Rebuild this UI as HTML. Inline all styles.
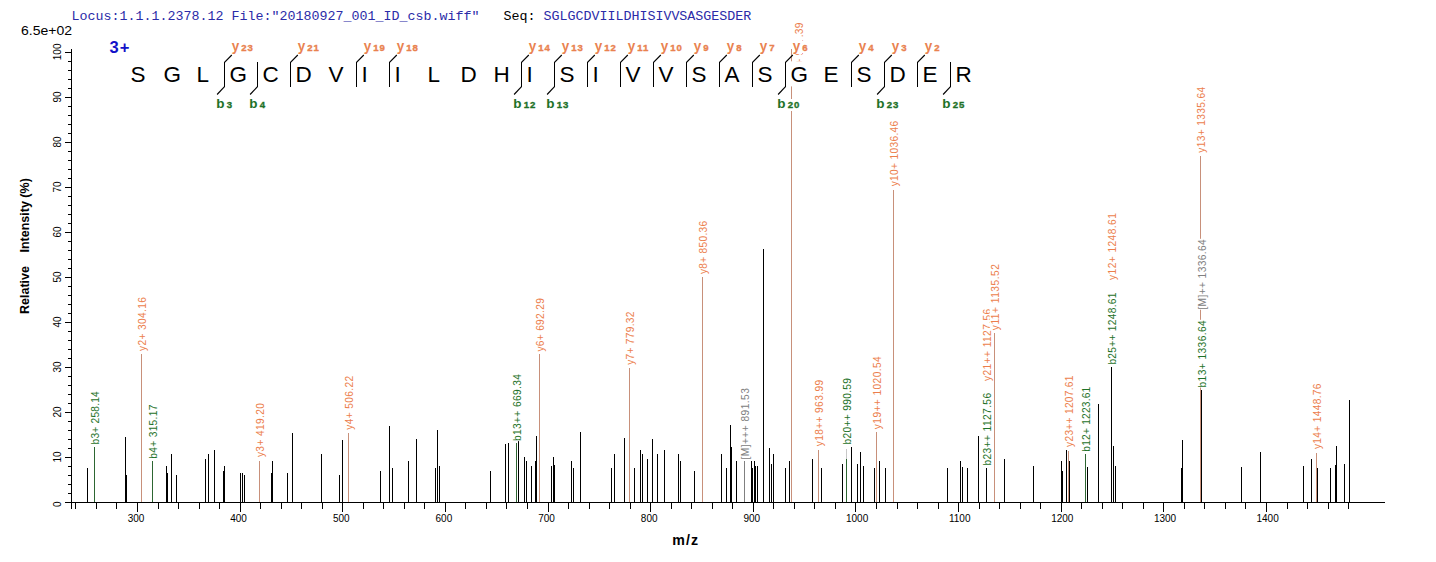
<!DOCTYPE html><html><head><meta charset="utf-8"><style>
html,body{margin:0;padding:0;background:#fff;width:1436px;height:562px;overflow:hidden}
svg{display:block}
text{font-family:"Liberation Sans",sans-serif}
.m{font-family:"Liberation Mono",monospace}
</style></head><body>
<svg width="1436" height="562" viewBox="0 0 1436 562" shape-rendering="crispEdges">
<rect x="0" y="0" width="1436" height="562" fill="#fff"/>
<text class="m" x="71.5" y="20" font-size="13.333" xml:space="preserve" fill="#2b2ba8">Locus:1.1.1.2378.12 File:"20180927_001_ID_csb.wiff"   <tspan fill="#000">Seq:</tspan> SGLGCDVIILDHISIVVSASGESDER</text>
<text x="21" y="35" font-size="13" fill="#000" textLength="51" lengthAdjust="spacingAndGlyphs">6.5e+02</text>
<g fill="#000">
<rect x="71" y="49" width="1" height="460"/>
<rect x="65" y="502" width="1320" height="1"/>
<rect x="68" y="493" width="3" height="1"/>
<rect x="68" y="484" width="3" height="1"/>
<rect x="68" y="475" width="3" height="1"/>
<rect x="68" y="466" width="3" height="1"/>
<rect x="65" y="457" width="6" height="1"/>
<rect x="68" y="448" width="3" height="1"/>
<rect x="68" y="439" width="3" height="1"/>
<rect x="68" y="430" width="3" height="1"/>
<rect x="68" y="421" width="3" height="1"/>
<rect x="65" y="412" width="6" height="1"/>
<rect x="68" y="403" width="3" height="1"/>
<rect x="68" y="394" width="3" height="1"/>
<rect x="68" y="385" width="3" height="1"/>
<rect x="68" y="376" width="3" height="1"/>
<rect x="65" y="367" width="6" height="1"/>
<rect x="68" y="358" width="3" height="1"/>
<rect x="68" y="349" width="3" height="1"/>
<rect x="68" y="340" width="3" height="1"/>
<rect x="68" y="331" width="3" height="1"/>
<rect x="65" y="322" width="6" height="1"/>
<rect x="68" y="313" width="3" height="1"/>
<rect x="68" y="304" width="3" height="1"/>
<rect x="68" y="295" width="3" height="1"/>
<rect x="68" y="286" width="3" height="1"/>
<rect x="65" y="277" width="6" height="1"/>
<rect x="68" y="268" width="3" height="1"/>
<rect x="68" y="259" width="3" height="1"/>
<rect x="68" y="250" width="3" height="1"/>
<rect x="68" y="241" width="3" height="1"/>
<rect x="65" y="232" width="6" height="1"/>
<rect x="68" y="223" width="3" height="1"/>
<rect x="68" y="214" width="3" height="1"/>
<rect x="68" y="205" width="3" height="1"/>
<rect x="68" y="196" width="3" height="1"/>
<rect x="65" y="187" width="6" height="1"/>
<rect x="68" y="178" width="3" height="1"/>
<rect x="68" y="169" width="3" height="1"/>
<rect x="68" y="160" width="3" height="1"/>
<rect x="68" y="151" width="3" height="1"/>
<rect x="65" y="142" width="6" height="1"/>
<rect x="68" y="133" width="3" height="1"/>
<rect x="68" y="124" width="3" height="1"/>
<rect x="68" y="115" width="3" height="1"/>
<rect x="68" y="106" width="3" height="1"/>
<rect x="65" y="97" width="6" height="1"/>
<rect x="68" y="88" width="3" height="1"/>
<rect x="68" y="79" width="3" height="1"/>
<rect x="68" y="70" width="3" height="1"/>
<rect x="68" y="61" width="3" height="1"/>
<rect x="65" y="52" width="6" height="1"/>
<rect x="75" y="503" width="1" height="6"/>
<rect x="96" y="503" width="1" height="6"/>
<rect x="116" y="503" width="1" height="6"/>
<rect x="137" y="503" width="1" height="9"/>
<rect x="158" y="503" width="1" height="6"/>
<rect x="178" y="503" width="1" height="6"/>
<rect x="199" y="503" width="1" height="6"/>
<rect x="219" y="503" width="1" height="6"/>
<rect x="240" y="503" width="1" height="9"/>
<rect x="260" y="503" width="1" height="6"/>
<rect x="281" y="503" width="1" height="6"/>
<rect x="301" y="503" width="1" height="6"/>
<rect x="322" y="503" width="1" height="6"/>
<rect x="342" y="503" width="1" height="9"/>
<rect x="363" y="503" width="1" height="6"/>
<rect x="383" y="503" width="1" height="6"/>
<rect x="404" y="503" width="1" height="6"/>
<rect x="424" y="503" width="1" height="6"/>
<rect x="445" y="503" width="1" height="9"/>
<rect x="465" y="503" width="1" height="6"/>
<rect x="486" y="503" width="1" height="6"/>
<rect x="506" y="503" width="1" height="6"/>
<rect x="527" y="503" width="1" height="6"/>
<rect x="548" y="503" width="1" height="9"/>
<rect x="568" y="503" width="1" height="6"/>
<rect x="589" y="503" width="1" height="6"/>
<rect x="609" y="503" width="1" height="6"/>
<rect x="630" y="503" width="1" height="6"/>
<rect x="650" y="503" width="1" height="9"/>
<rect x="671" y="503" width="1" height="6"/>
<rect x="691" y="503" width="1" height="6"/>
<rect x="712" y="503" width="1" height="6"/>
<rect x="732" y="503" width="1" height="6"/>
<rect x="753" y="503" width="1" height="9"/>
<rect x="773" y="503" width="1" height="6"/>
<rect x="794" y="503" width="1" height="6"/>
<rect x="814" y="503" width="1" height="6"/>
<rect x="835" y="503" width="1" height="6"/>
<rect x="855" y="503" width="1" height="9"/>
<rect x="876" y="503" width="1" height="6"/>
<rect x="897" y="503" width="1" height="6"/>
<rect x="917" y="503" width="1" height="6"/>
<rect x="938" y="503" width="1" height="6"/>
<rect x="958" y="503" width="1" height="9"/>
<rect x="979" y="503" width="1" height="6"/>
<rect x="999" y="503" width="1" height="6"/>
<rect x="1020" y="503" width="1" height="6"/>
<rect x="1040" y="503" width="1" height="6"/>
<rect x="1061" y="503" width="1" height="9"/>
<rect x="1081" y="503" width="1" height="6"/>
<rect x="1102" y="503" width="1" height="6"/>
<rect x="1122" y="503" width="1" height="6"/>
<rect x="1143" y="503" width="1" height="6"/>
<rect x="1163" y="503" width="1" height="9"/>
<rect x="1184" y="503" width="1" height="6"/>
<rect x="1204" y="503" width="1" height="6"/>
<rect x="1225" y="503" width="1" height="6"/>
<rect x="1245" y="503" width="1" height="6"/>
<rect x="1266" y="503" width="1" height="9"/>
<rect x="1287" y="503" width="1" height="6"/>
<rect x="1307" y="503" width="1" height="6"/>
<rect x="1328" y="503" width="1" height="6"/>
<rect x="1348" y="503" width="1" height="6"/>
</g>
<text x="136.0" y="522" font-size="10" text-anchor="middle">300</text>
<text x="238.6" y="522" font-size="10" text-anchor="middle">400</text>
<text x="341.3" y="522" font-size="10" text-anchor="middle">500</text>
<text x="443.9" y="522" font-size="10" text-anchor="middle">600</text>
<text x="546.5" y="522" font-size="10" text-anchor="middle">700</text>
<text x="649.2" y="522" font-size="10" text-anchor="middle">800</text>
<text x="751.8" y="522" font-size="10" text-anchor="middle">900</text>
<text x="857.1" y="522" font-size="10" text-anchor="middle">1000</text>
<text x="959.7" y="522" font-size="10" text-anchor="middle">1100</text>
<text x="1062.3" y="522" font-size="10" text-anchor="middle">1200</text>
<text x="1165.0" y="522" font-size="10" text-anchor="middle">1300</text>
<text x="1267.6" y="522" font-size="10" text-anchor="middle">1400</text>
<text transform="translate(61,504.3) rotate(-90)" font-size="10" text-anchor="middle">0</text>
<text transform="translate(61,456.9) rotate(-90)" font-size="10" text-anchor="middle">10</text>
<text transform="translate(61,411.9) rotate(-90)" font-size="10" text-anchor="middle">20</text>
<text transform="translate(61,366.9) rotate(-90)" font-size="10" text-anchor="middle">30</text>
<text transform="translate(61,321.9) rotate(-90)" font-size="10" text-anchor="middle">40</text>
<text transform="translate(61,276.9) rotate(-90)" font-size="10" text-anchor="middle">50</text>
<text transform="translate(61,231.9) rotate(-90)" font-size="10" text-anchor="middle">60</text>
<text transform="translate(61,186.9) rotate(-90)" font-size="10" text-anchor="middle">70</text>
<text transform="translate(61,141.9) rotate(-90)" font-size="10" text-anchor="middle">80</text>
<text transform="translate(61,96.9) rotate(-90)" font-size="10" text-anchor="middle">90</text>
<text transform="translate(61,51.9) rotate(-90)" font-size="10" text-anchor="middle">100</text>
<text transform="translate(28.5,314) rotate(-90)" font-size="12.5" font-weight="bold">Relative</text>
<text transform="translate(28.5,252.5) rotate(-90)" font-size="12.5" font-weight="bold">Intensity (%)</text>
<text x="672.3" y="545" font-size="14.2" font-weight="bold" letter-spacing="1.1">m/z</text>
<g>
<rect x="87" y="468" width="1" height="34" fill="#000"/>
<rect x="125" y="437" width="1" height="65" fill="#000"/>
<rect x="126" y="475" width="1" height="27" fill="#000"/>
<rect x="166" y="466" width="1" height="36" fill="#000"/>
<rect x="167" y="473" width="1" height="29" fill="#000"/>
<rect x="171" y="454" width="1" height="48" fill="#000"/>
<rect x="176" y="475" width="1" height="27" fill="#000"/>
<rect x="205" y="459" width="1" height="43" fill="#000"/>
<rect x="208" y="454" width="1" height="48" fill="#000"/>
<rect x="214" y="450" width="1" height="52" fill="#000"/>
<rect x="223" y="471" width="1" height="31" fill="#000"/>
<rect x="224" y="466" width="1" height="36" fill="#000"/>
<rect x="240" y="473" width="1" height="29" fill="#000"/>
<rect x="242" y="473" width="1" height="29" fill="#000"/>
<rect x="244" y="475" width="1" height="27" fill="#000"/>
<rect x="271" y="473" width="1" height="29" fill="#000"/>
<rect x="272" y="461" width="1" height="41" fill="#000"/>
<rect x="287" y="473" width="1" height="29" fill="#000"/>
<rect x="292" y="433" width="1" height="69" fill="#000"/>
<rect x="321" y="454" width="1" height="48" fill="#000"/>
<rect x="339" y="475" width="1" height="27" fill="#000"/>
<rect x="342" y="440" width="1" height="62" fill="#000"/>
<rect x="380" y="471" width="1" height="31" fill="#000"/>
<rect x="389" y="426" width="1" height="76" fill="#000"/>
<rect x="392" y="468" width="1" height="34" fill="#000"/>
<rect x="408" y="461" width="1" height="41" fill="#000"/>
<rect x="416" y="439" width="1" height="63" fill="#000"/>
<rect x="435" y="468" width="1" height="34" fill="#000"/>
<rect x="437" y="430" width="1" height="72" fill="#000"/>
<rect x="439" y="466" width="1" height="36" fill="#000"/>
<rect x="490" y="471" width="1" height="31" fill="#000"/>
<rect x="505" y="444" width="1" height="58" fill="#000"/>
<rect x="508" y="443" width="1" height="59" fill="#000"/>
<rect x="518" y="441" width="1" height="61" fill="#000"/>
<rect x="524" y="457" width="1" height="45" fill="#000"/>
<rect x="526" y="461" width="1" height="41" fill="#000"/>
<rect x="531" y="466" width="1" height="36" fill="#000"/>
<rect x="535" y="461" width="1" height="41" fill="#000"/>
<rect x="536" y="436" width="1" height="66" fill="#000"/>
<rect x="551" y="466" width="1" height="36" fill="#000"/>
<rect x="553" y="457" width="1" height="45" fill="#000"/>
<rect x="554" y="465" width="1" height="37" fill="#000"/>
<rect x="571" y="461" width="1" height="41" fill="#000"/>
<rect x="573" y="468" width="1" height="34" fill="#000"/>
<rect x="580" y="432" width="1" height="70" fill="#000"/>
<rect x="611" y="468" width="1" height="34" fill="#000"/>
<rect x="614" y="454" width="1" height="48" fill="#000"/>
<rect x="624" y="438" width="1" height="64" fill="#000"/>
<rect x="634" y="468" width="1" height="34" fill="#000"/>
<rect x="640" y="450" width="1" height="52" fill="#000"/>
<rect x="642" y="454" width="1" height="48" fill="#000"/>
<rect x="647" y="459" width="1" height="43" fill="#000"/>
<rect x="652" y="439" width="1" height="63" fill="#000"/>
<rect x="657" y="454" width="1" height="48" fill="#000"/>
<rect x="664" y="450" width="1" height="52" fill="#000"/>
<rect x="678" y="454" width="1" height="48" fill="#000"/>
<rect x="680" y="461" width="1" height="41" fill="#000"/>
<rect x="694" y="471" width="1" height="31" fill="#000"/>
<rect x="721" y="454" width="1" height="48" fill="#000"/>
<rect x="726" y="468" width="1" height="34" fill="#000"/>
<rect x="730" y="425" width="1" height="77" fill="#000"/>
<rect x="731" y="447" width="1" height="55" fill="#000"/>
<rect x="736" y="461" width="1" height="41" fill="#000"/>
<rect x="751" y="461" width="1" height="41" fill="#000"/>
<rect x="752" y="468" width="1" height="34" fill="#000"/>
<rect x="754" y="461" width="1" height="41" fill="#000"/>
<rect x="755" y="466" width="1" height="36" fill="#000"/>
<rect x="757" y="466" width="1" height="36" fill="#000"/>
<rect x="763" y="249" width="1" height="253" fill="#000"/>
<rect x="769" y="448" width="1" height="54" fill="#000"/>
<rect x="771" y="464" width="1" height="38" fill="#000"/>
<rect x="773" y="454" width="1" height="48" fill="#000"/>
<rect x="785" y="468" width="1" height="34" fill="#000"/>
<rect x="789" y="461" width="1" height="41" fill="#000"/>
<rect x="812" y="459" width="1" height="43" fill="#000"/>
<rect x="821" y="468" width="1" height="34" fill="#000"/>
<rect x="842" y="464" width="1" height="38" fill="#000"/>
<rect x="851" y="447" width="1" height="55" fill="#000"/>
<rect x="857" y="464" width="1" height="38" fill="#000"/>
<rect x="860" y="452" width="1" height="50" fill="#000"/>
<rect x="863" y="466" width="1" height="36" fill="#000"/>
<rect x="874" y="468" width="1" height="34" fill="#000"/>
<rect x="879" y="461" width="1" height="41" fill="#000"/>
<rect x="885" y="468" width="1" height="34" fill="#000"/>
<rect x="947" y="468" width="1" height="34" fill="#000"/>
<rect x="960" y="461" width="1" height="41" fill="#000"/>
<rect x="962" y="467" width="1" height="35" fill="#000"/>
<rect x="967" y="468" width="1" height="34" fill="#000"/>
<rect x="978" y="436" width="1" height="66" fill="#000"/>
<rect x="1004" y="459" width="1" height="43" fill="#000"/>
<rect x="1033" y="466" width="1" height="36" fill="#000"/>
<rect x="1061" y="461" width="1" height="41" fill="#000"/>
<rect x="1062" y="471" width="1" height="31" fill="#000"/>
<rect x="1066" y="450" width="1" height="52" fill="#000"/>
<rect x="1069" y="461" width="1" height="41" fill="#000"/>
<rect x="1087" y="467" width="1" height="35" fill="#000"/>
<rect x="1098" y="404" width="1" height="98" fill="#000"/>
<rect x="1113" y="446" width="1" height="56" fill="#000"/>
<rect x="1115" y="466" width="1" height="36" fill="#000"/>
<rect x="1181" y="468" width="1" height="34" fill="#000"/>
<rect x="1182" y="440" width="1" height="62" fill="#000"/>
<rect x="1241" y="467" width="1" height="35" fill="#000"/>
<rect x="1260" y="452" width="1" height="50" fill="#000"/>
<rect x="1303" y="466" width="1" height="36" fill="#000"/>
<rect x="1311" y="459" width="1" height="43" fill="#000"/>
<rect x="1317" y="468" width="1" height="34" fill="#000"/>
<rect x="1330" y="468" width="1" height="34" fill="#000"/>
<rect x="1335" y="465" width="1" height="37" fill="#000"/>
<rect x="1336" y="446" width="1" height="56" fill="#000"/>
<rect x="1344" y="464" width="1" height="38" fill="#000"/>
<rect x="1349" y="400" width="1" height="102" fill="#000"/>
<rect x="94" y="447" width="1" height="55" fill="#2d6632"/>
<rect x="152" y="461" width="1" height="41" fill="#2d6632"/>
<rect x="141" y="354" width="1" height="148" fill="#c8907a"/>
<rect x="259" y="461" width="1" height="41" fill="#c8907a"/>
<rect x="348" y="433" width="1" height="69" fill="#c8907a"/>
<rect x="516" y="443" width="1" height="59" fill="#2d6632"/>
<rect x="539" y="354" width="1" height="148" fill="#c8907a"/>
<rect x="629" y="368" width="1" height="134" fill="#c8907a"/>
<rect x="702" y="277" width="1" height="225" fill="#c8907a"/>
<rect x="744" y="461" width="1" height="41" fill="#808080"/>
<rect x="818" y="450" width="1" height="52" fill="#c8907a"/>
<rect x="846" y="459" width="1" height="43" fill="#2d6632"/>
<rect x="876" y="432" width="1" height="70" fill="#c8907a"/>
<rect x="893" y="190" width="1" height="312" fill="#c8907a"/>
<rect x="986" y="468" width="1" height="34" fill="#000"/>
<rect x="994" y="333" width="1" height="169" fill="#c8907a"/>
<rect x="1068" y="451" width="1" height="51" fill="#c8907a"/>
<rect x="1085" y="454" width="1" height="48" fill="#2d6632"/>
<rect x="1111" y="367" width="1" height="135" fill="#000"/>
<rect x="1200" y="156" width="1" height="346" fill="#c8907a"/>
<rect x="1201" y="390" width="1" height="112" fill="#000"/>
<rect x="1316" y="453" width="1" height="49" fill="#c8907a"/>
<rect x="791" y="49" width="1" height="453" fill="#c8907a"/>
<rect x="846" y="449" width="1" height="10" fill="#c8c8c8"/>
</g>
<rect x="89.7" y="391.0" width="11.4" height="53.5" fill="#fff" shape-rendering="auto"/>
<text transform="translate(98.9,444.5) rotate(-90)" font-size="10.2" letter-spacing="0.22" fill="#1e7228">b3+ 258.14</text>
<rect x="147.7" y="404.2" width="11.4" height="54.6" fill="#fff" shape-rendering="auto"/>
<text transform="translate(156.9,458.8) rotate(-90)" font-size="10.2" letter-spacing="0.33" fill="#1e7228">b4+ 315.17</text>
<rect x="136.7" y="296.7" width="11.4" height="54.2" fill="#fff" shape-rendering="auto"/>
<text transform="translate(145.9,350.9) rotate(-90)" font-size="10.2" letter-spacing="0.35" fill="#ec7e4c">y2+ 304.16</text>
<rect x="254.7" y="402.5" width="11.4" height="54.6" fill="#fff" shape-rendering="auto"/>
<text transform="translate(263.9,457.1) rotate(-90)" font-size="10.2" letter-spacing="0.38" fill="#ec7e4c">y3+ 419.20</text>
<rect x="343.7" y="375.6" width="11.4" height="54.1" fill="#fff" shape-rendering="auto"/>
<text transform="translate(352.9,429.7) rotate(-90)" font-size="10.2" letter-spacing="0.34" fill="#ec7e4c">y4+ 506.22</text>
<rect x="511.7" y="373.6" width="11.4" height="67.5" fill="#fff" shape-rendering="auto"/>
<text transform="translate(520.9,441.1) rotate(-90)" font-size="10.2" letter-spacing="0.38" fill="#1e7228">b13++ 669.34</text>
<rect x="534.7" y="297.8" width="11.4" height="53.8" fill="#fff" shape-rendering="auto"/>
<text transform="translate(543.9,351.6) rotate(-90)" font-size="10.2" letter-spacing="0.30" fill="#ec7e4c">y6+ 692.29</text>
<rect x="624.7" y="311.2" width="11.4" height="53.6" fill="#fff" shape-rendering="auto"/>
<text transform="translate(633.9,364.8) rotate(-90)" font-size="10.2" letter-spacing="0.28" fill="#ec7e4c">y7+ 779.32</text>
<rect x="697.7" y="220.5" width="11.4" height="53.6" fill="#fff" shape-rendering="auto"/>
<text transform="translate(706.9,274.1) rotate(-90)" font-size="10.2" letter-spacing="0.28" fill="#ec7e4c">y8+ 850.36</text>
<rect x="739.7" y="387.6" width="11.4" height="72.1" fill="#fff" shape-rendering="auto"/>
<text transform="translate(748.9,459.6) rotate(-90)" font-size="10.2" letter-spacing="0.46" fill="#808080">[M]+++ 891.53</text>
<rect x="813.7" y="379.4" width="11.4" height="66.9" fill="#fff" shape-rendering="auto"/>
<text transform="translate(822.9,446.3) rotate(-90)" font-size="10.2" letter-spacing="0.37" fill="#ec7e4c">y18++ 963.99</text>
<rect x="841.7" y="377.6" width="11.4" height="67.0" fill="#fff" shape-rendering="auto"/>
<text transform="translate(850.9,444.6) rotate(-90)" font-size="10.2" letter-spacing="0.34" fill="#1e7228">b20++ 990.59</text>
<rect x="871.7" y="355.8" width="11.4" height="73.4" fill="#fff" shape-rendering="auto"/>
<text transform="translate(880.9,429.2) rotate(-90)" font-size="10.2" letter-spacing="0.41" fill="#ec7e4c">y19++ 1020.54</text>
<rect x="888.7" y="120.4" width="11.4" height="65.9" fill="#fff" shape-rendering="auto"/>
<text transform="translate(897.9,186.3) rotate(-90)" font-size="10.2" letter-spacing="0.32" fill="#ec7e4c">y10+ 1036.46</text>
<rect x="981.7" y="392.4" width="11.4" height="73.2" fill="#fff" shape-rendering="auto"/>
<text transform="translate(990.9,465.6) rotate(-90)" font-size="10.2" letter-spacing="0.41" fill="#1e7228">b23++ 1127.56</text>
<rect x="981.7" y="308.2" width="11.4" height="72.9" fill="#fff" shape-rendering="auto"/>
<text transform="translate(990.9,381.1) rotate(-90)" font-size="10.2" letter-spacing="0.43" fill="#ec7e4c">y21++ 1127.56</text>
<rect x="989.7" y="263.6" width="11.4" height="66.6" fill="#fff" shape-rendering="auto"/>
<text transform="translate(998.9,330.2) rotate(-90)" font-size="10.2" letter-spacing="0.50" fill="#ec7e4c">y11+ 1135.52</text>
<rect x="1063.7" y="375.2" width="11.4" height="71.7" fill="#fff" shape-rendering="auto"/>
<text transform="translate(1072.9,446.9) rotate(-90)" font-size="10.2" letter-spacing="0.28" fill="#ec7e4c">y23++ 1207.61</text>
<rect x="1080.7" y="386.5" width="11.4" height="65.2" fill="#fff" shape-rendering="auto"/>
<text transform="translate(1089.9,451.7) rotate(-90)" font-size="10.2" letter-spacing="0.21" fill="#1e7228">b12+ 1223.61</text>
<rect x="1106.7" y="292.2" width="11.4" height="72.4" fill="#fff" shape-rendering="auto"/>
<text transform="translate(1115.9,364.6) rotate(-90)" font-size="10.2" letter-spacing="0.29" fill="#1e7228">b25++ 1248.61</text>
<rect x="1106.7" y="212.6" width="11.4" height="67.4" fill="#fff" shape-rendering="auto"/>
<text transform="translate(1115.9,280.0) rotate(-90)" font-size="10.2" letter-spacing="0.44" fill="#ec7e4c">y12+ 1248.61</text>
<rect x="1195.7" y="86.3" width="11.4" height="66.4" fill="#fff" shape-rendering="auto"/>
<text transform="translate(1204.9,152.7) rotate(-90)" font-size="10.2" letter-spacing="0.35" fill="#ec7e4c">y13+ 1335.64</text>
<rect x="1196.7" y="319.8" width="11.4" height="67.7" fill="#fff" shape-rendering="auto"/>
<text transform="translate(1205.9,387.5) rotate(-90)" font-size="10.2" letter-spacing="0.42" fill="#1e7228">b13+ 1336.64</text>
<rect x="1196.7" y="238.8" width="11.4" height="70.9" fill="#fff" shape-rendering="auto"/>
<text transform="translate(1205.9,309.6) rotate(-90)" font-size="10.2" letter-spacing="0.39" fill="#808080">[M]++ 1336.64</text>
<rect x="1311.7" y="383.2" width="11.4" height="65.9" fill="#fff" shape-rendering="auto"/>
<text transform="translate(1320.9,449.1) rotate(-90)" font-size="10.2" letter-spacing="0.32" fill="#ec7e4c">y14+ 1448.76</text>
<text transform="translate(802.9,76) rotate(-90)" font-size="10.2" letter-spacing="0.30" fill="#ec7e4c">y9+ 937.39</text>
<text x="109.6" y="53.0" font-size="16.5" font-weight="bold" letter-spacing="1" fill="#1212c8">3+</text>
<rect x="130.0" y="61.3" width="15.0" height="25.1" fill="#fff" shape-rendering="auto"/>
<text transform="translate(130.5,81.8) scale(1,1.02)" font-size="22.5">S</text>
<rect x="163.0" y="61.3" width="17.5" height="25.1" fill="#fff" shape-rendering="auto"/>
<text transform="translate(163.5,81.8) scale(1,1.02)" font-size="22.5">G</text>
<rect x="196.0" y="61.3" width="12.5" height="25.1" fill="#fff" shape-rendering="auto"/>
<text transform="translate(196.5,81.8) scale(1,1.02)" font-size="22.5">L</text>
<rect x="229.0" y="61.3" width="17.5" height="25.1" fill="#fff" shape-rendering="auto"/>
<text transform="translate(229.5,81.8) scale(1,1.02)" font-size="22.5">G</text>
<rect x="262.0" y="61.3" width="16.2" height="25.1" fill="#fff" shape-rendering="auto"/>
<text transform="translate(262.5,81.8) scale(1,1.02)" font-size="22.5">C</text>
<rect x="295.0" y="61.3" width="16.2" height="25.1" fill="#fff" shape-rendering="auto"/>
<text transform="translate(295.5,81.8) scale(1,1.02)" font-size="22.5">D</text>
<rect x="328.0" y="61.3" width="15.0" height="25.1" fill="#fff" shape-rendering="auto"/>
<text transform="translate(328.5,81.8) scale(1,1.02)" font-size="22.5">V</text>
<rect x="361.0" y="61.3" width="6.3" height="25.1" fill="#fff" shape-rendering="auto"/>
<text transform="translate(361.5,81.8) scale(1,1.02)" font-size="22.5">I</text>
<rect x="394.0" y="61.3" width="6.3" height="25.1" fill="#fff" shape-rendering="auto"/>
<text transform="translate(394.5,81.8) scale(1,1.02)" font-size="22.5">I</text>
<rect x="427.0" y="61.3" width="12.5" height="25.1" fill="#fff" shape-rendering="auto"/>
<text transform="translate(427.5,81.8) scale(1,1.02)" font-size="22.5">L</text>
<rect x="460.0" y="61.3" width="16.2" height="25.1" fill="#fff" shape-rendering="auto"/>
<text transform="translate(460.5,81.8) scale(1,1.02)" font-size="22.5">D</text>
<rect x="493.0" y="61.3" width="16.2" height="25.1" fill="#fff" shape-rendering="auto"/>
<text transform="translate(493.5,81.8) scale(1,1.02)" font-size="22.5">H</text>
<rect x="526.0" y="61.3" width="6.3" height="25.1" fill="#fff" shape-rendering="auto"/>
<text transform="translate(526.5,81.8) scale(1,1.02)" font-size="22.5">I</text>
<rect x="559.0" y="61.3" width="15.0" height="25.1" fill="#fff" shape-rendering="auto"/>
<text transform="translate(559.5,81.8) scale(1,1.02)" font-size="22.5">S</text>
<rect x="592.0" y="61.3" width="6.3" height="25.1" fill="#fff" shape-rendering="auto"/>
<text transform="translate(592.5,81.8) scale(1,1.02)" font-size="22.5">I</text>
<rect x="625.0" y="61.3" width="15.0" height="25.1" fill="#fff" shape-rendering="auto"/>
<text transform="translate(625.5,81.8) scale(1,1.02)" font-size="22.5">V</text>
<rect x="658.0" y="61.3" width="15.0" height="25.1" fill="#fff" shape-rendering="auto"/>
<text transform="translate(658.5,81.8) scale(1,1.02)" font-size="22.5">V</text>
<rect x="691.0" y="61.3" width="15.0" height="25.1" fill="#fff" shape-rendering="auto"/>
<text transform="translate(691.5,81.8) scale(1,1.02)" font-size="22.5">S</text>
<rect x="724.0" y="61.3" width="15.0" height="25.1" fill="#fff" shape-rendering="auto"/>
<text transform="translate(724.5,81.8) scale(1,1.02)" font-size="22.5">A</text>
<rect x="757.0" y="61.3" width="15.0" height="25.1" fill="#fff" shape-rendering="auto"/>
<text transform="translate(757.5,81.8) scale(1,1.02)" font-size="22.5">S</text>
<rect x="790.0" y="61.3" width="17.5" height="25.1" fill="#fff" shape-rendering="auto"/>
<text transform="translate(790.5,81.8) scale(1,1.02)" font-size="22.5">G</text>
<rect x="823.0" y="61.3" width="15.0" height="25.1" fill="#fff" shape-rendering="auto"/>
<text transform="translate(823.5,81.8) scale(1,1.02)" font-size="22.5">E</text>
<rect x="856.0" y="61.3" width="15.0" height="25.1" fill="#fff" shape-rendering="auto"/>
<text transform="translate(856.5,81.8) scale(1,1.02)" font-size="22.5">S</text>
<rect x="889.0" y="61.3" width="16.2" height="25.1" fill="#fff" shape-rendering="auto"/>
<text transform="translate(889.5,81.8) scale(1,1.02)" font-size="22.5">D</text>
<rect x="922.0" y="61.3" width="15.0" height="25.1" fill="#fff" shape-rendering="auto"/>
<text transform="translate(922.5,81.8) scale(1,1.02)" font-size="22.5">E</text>
<rect x="955.0" y="61.3" width="16.2" height="25.1" fill="#fff" shape-rendering="auto"/>
<text transform="translate(955.5,81.8) scale(1,1.02)" font-size="22.5">R</text>
<g stroke="#000" stroke-width="1" fill="none" shape-rendering="auto">
<path d="M224.5 62 V87"/>
<path d="M257.5 62 V87"/>
<path d="M290.5 62 V87"/>
<path d="M356.5 62 V87"/>
<path d="M389.5 62 V87"/>
<path d="M521.5 62 V87"/>
<path d="M554.5 62 V87"/>
<path d="M587.5 62 V87"/>
<path d="M620.5 62 V87"/>
<path d="M653.5 62 V87"/>
<path d="M686.5 62 V87"/>
<path d="M719.5 62 V87"/>
<path d="M752.5 62 V87"/>
<path d="M785.5 62 V87"/>
<path d="M851.5 62 V87"/>
<path d="M884.5 62 V87"/>
<path d="M917.5 62 V87"/>
<path d="M950.5 62 V87"/>
</g><g stroke="#000" stroke-width="1.15" fill="none" shape-rendering="auto">
<path d="M224.5 62.3 L231.8 55"/>
<path d="M224.5 86.7 L217.1 94.5"/>
<path d="M257.5 86.7 L250.1 94.5"/>
<path d="M290.5 62.3 L297.8 55"/>
<path d="M356.5 62.3 L363.8 55"/>
<path d="M389.5 62.3 L396.8 55"/>
<path d="M521.5 62.3 L528.8 55"/>
<path d="M521.5 86.7 L514.1 94.5"/>
<path d="M554.5 62.3 L561.8 55"/>
<path d="M554.5 86.7 L547.1 94.5"/>
<path d="M587.5 62.3 L594.8 55"/>
<path d="M620.5 62.3 L627.8 55"/>
<path d="M653.5 62.3 L660.8 55"/>
<path d="M686.5 62.3 L693.8 55"/>
<path d="M719.5 62.3 L726.8 55"/>
<path d="M752.5 62.3 L759.8 55"/>
<path d="M785.5 62.3 L792.8 55"/>
<path d="M785.5 86.7 L778.1 94.5"/>
<path d="M851.5 62.3 L858.8 55"/>
<path d="M884.5 62.3 L891.8 55"/>
<path d="M884.5 86.7 L877.1 94.5"/>
<path d="M917.5 62.3 L924.8 55"/>
<path d="M950.5 86.7 L943.1 94.5"/>
</g>
<rect x="231.0" y="37.2" width="10.4" height="16.8" fill="#fff"/>
<rect x="241.0" y="41.3" width="12.7" height="12.0" fill="#fff"/>
<text transform="translate(231.7,50.8) scale(0.88,1)" font-size="15.3" font-weight="bold" fill="#e9824f">y</text>
<text x="241.3" y="50.8" font-size="9.6" font-weight="bold" letter-spacing="0.9" fill="#e9824f" stroke="#e9824f" stroke-width="0.35">23</text>
<rect x="215.7" y="95.5" width="9.6" height="15.5" fill="#fff"/>
<rect x="226.0" y="98.6" width="6.9" height="12.0" fill="#fff"/>
<text x="216.3" y="107.8" font-size="13.5" font-weight="bold" fill="#1e7228">b</text>
<text x="226.7" y="107.8" font-size="9.6" font-weight="bold" letter-spacing="0.9" fill="#1e7228" stroke="#1e7228" stroke-width="0.35">3</text>
<rect x="248.7" y="95.5" width="9.6" height="15.5" fill="#fff"/>
<rect x="259.0" y="98.6" width="6.9" height="12.0" fill="#fff"/>
<text x="249.3" y="107.8" font-size="13.5" font-weight="bold" fill="#1e7228">b</text>
<text x="259.7" y="107.8" font-size="9.6" font-weight="bold" letter-spacing="0.9" fill="#1e7228" stroke="#1e7228" stroke-width="0.35">4</text>
<rect x="297.0" y="37.2" width="10.4" height="16.8" fill="#fff"/>
<rect x="307.0" y="41.3" width="12.7" height="12.0" fill="#fff"/>
<text transform="translate(297.7,50.8) scale(0.88,1)" font-size="15.3" font-weight="bold" fill="#e9824f">y</text>
<text x="307.3" y="50.8" font-size="9.6" font-weight="bold" letter-spacing="0.9" fill="#e9824f" stroke="#e9824f" stroke-width="0.35">21</text>
<rect x="363.0" y="37.2" width="10.4" height="16.8" fill="#fff"/>
<rect x="373.0" y="41.3" width="12.7" height="12.0" fill="#fff"/>
<text transform="translate(363.7,50.8) scale(0.88,1)" font-size="15.3" font-weight="bold" fill="#e9824f">y</text>
<text x="373.3" y="50.8" font-size="9.6" font-weight="bold" letter-spacing="0.9" fill="#e9824f" stroke="#e9824f" stroke-width="0.35">19</text>
<rect x="396.0" y="37.2" width="10.4" height="16.8" fill="#fff"/>
<rect x="406.0" y="41.3" width="12.7" height="12.0" fill="#fff"/>
<text transform="translate(396.7,50.8) scale(0.88,1)" font-size="15.3" font-weight="bold" fill="#e9824f">y</text>
<text x="406.3" y="50.8" font-size="9.6" font-weight="bold" letter-spacing="0.9" fill="#e9824f" stroke="#e9824f" stroke-width="0.35">18</text>
<rect x="528.0" y="37.2" width="10.4" height="16.8" fill="#fff"/>
<rect x="538.0" y="41.3" width="12.7" height="12.0" fill="#fff"/>
<text transform="translate(528.7,50.8) scale(0.88,1)" font-size="15.3" font-weight="bold" fill="#e9824f">y</text>
<text x="538.3" y="50.8" font-size="9.6" font-weight="bold" letter-spacing="0.9" fill="#e9824f" stroke="#e9824f" stroke-width="0.35">14</text>
<rect x="512.7" y="95.5" width="9.6" height="15.5" fill="#fff"/>
<rect x="523.0" y="98.6" width="12.9" height="12.0" fill="#fff"/>
<text x="513.3" y="107.8" font-size="13.5" font-weight="bold" fill="#1e7228">b</text>
<text x="523.7" y="107.8" font-size="9.6" font-weight="bold" letter-spacing="0.9" fill="#1e7228" stroke="#1e7228" stroke-width="0.35">12</text>
<rect x="561.0" y="37.2" width="10.4" height="16.8" fill="#fff"/>
<rect x="571.0" y="41.3" width="12.7" height="12.0" fill="#fff"/>
<text transform="translate(561.7,50.8) scale(0.88,1)" font-size="15.3" font-weight="bold" fill="#e9824f">y</text>
<text x="571.3" y="50.8" font-size="9.6" font-weight="bold" letter-spacing="0.9" fill="#e9824f" stroke="#e9824f" stroke-width="0.35">13</text>
<rect x="545.7" y="95.5" width="9.6" height="15.5" fill="#fff"/>
<rect x="556.0" y="98.6" width="12.9" height="12.0" fill="#fff"/>
<text x="546.3" y="107.8" font-size="13.5" font-weight="bold" fill="#1e7228">b</text>
<text x="556.7" y="107.8" font-size="9.6" font-weight="bold" letter-spacing="0.9" fill="#1e7228" stroke="#1e7228" stroke-width="0.35">13</text>
<rect x="594.0" y="37.2" width="10.4" height="16.8" fill="#fff"/>
<rect x="604.0" y="41.3" width="12.7" height="12.0" fill="#fff"/>
<text transform="translate(594.7,50.8) scale(0.88,1)" font-size="15.3" font-weight="bold" fill="#e9824f">y</text>
<text x="604.3" y="50.8" font-size="9.6" font-weight="bold" letter-spacing="0.9" fill="#e9824f" stroke="#e9824f" stroke-width="0.35">12</text>
<rect x="627.0" y="37.2" width="10.4" height="16.8" fill="#fff"/>
<rect x="637.0" y="41.3" width="12.1" height="12.0" fill="#fff"/>
<text transform="translate(627.7,50.8) scale(0.88,1)" font-size="15.3" font-weight="bold" fill="#e9824f">y</text>
<text x="637.3" y="50.8" font-size="9.6" font-weight="bold" letter-spacing="0.9" fill="#e9824f" stroke="#e9824f" stroke-width="0.35">11</text>
<rect x="660.0" y="37.2" width="10.4" height="16.8" fill="#fff"/>
<rect x="670.0" y="41.3" width="12.7" height="12.0" fill="#fff"/>
<text transform="translate(660.7,50.8) scale(0.88,1)" font-size="15.3" font-weight="bold" fill="#e9824f">y</text>
<text x="670.3" y="50.8" font-size="9.6" font-weight="bold" letter-spacing="0.9" fill="#e9824f" stroke="#e9824f" stroke-width="0.35">10</text>
<rect x="693.0" y="37.2" width="10.4" height="16.8" fill="#fff"/>
<rect x="703.0" y="41.3" width="6.7" height="12.0" fill="#fff"/>
<text transform="translate(693.7,50.8) scale(0.88,1)" font-size="15.3" font-weight="bold" fill="#e9824f">y</text>
<text x="703.3" y="50.8" font-size="9.6" font-weight="bold" letter-spacing="0.9" fill="#e9824f" stroke="#e9824f" stroke-width="0.35">9</text>
<rect x="726.0" y="37.2" width="10.4" height="16.8" fill="#fff"/>
<rect x="736.0" y="41.3" width="6.7" height="12.0" fill="#fff"/>
<text transform="translate(726.7,50.8) scale(0.88,1)" font-size="15.3" font-weight="bold" fill="#e9824f">y</text>
<text x="736.3" y="50.8" font-size="9.6" font-weight="bold" letter-spacing="0.9" fill="#e9824f" stroke="#e9824f" stroke-width="0.35">8</text>
<rect x="759.0" y="37.2" width="10.4" height="16.8" fill="#fff"/>
<rect x="769.0" y="41.3" width="6.7" height="12.0" fill="#fff"/>
<text transform="translate(759.7,50.8) scale(0.88,1)" font-size="15.3" font-weight="bold" fill="#e9824f">y</text>
<text x="769.3" y="50.8" font-size="9.6" font-weight="bold" letter-spacing="0.9" fill="#e9824f" stroke="#e9824f" stroke-width="0.35">7</text>
<rect x="792.0" y="37.2" width="10.4" height="16.8" fill="#fff"/>
<rect x="802.0" y="41.3" width="6.7" height="12.0" fill="#fff"/>
<text transform="translate(792.7,50.8) scale(0.88,1)" font-size="15.3" font-weight="bold" fill="#e9824f">y</text>
<text x="802.3" y="50.8" font-size="9.6" font-weight="bold" letter-spacing="0.9" fill="#e9824f" stroke="#e9824f" stroke-width="0.35">6</text>
<rect x="776.7" y="95.5" width="9.6" height="15.5" fill="#fff"/>
<rect x="787.0" y="98.6" width="12.9" height="12.0" fill="#fff"/>
<text x="777.3" y="107.8" font-size="13.5" font-weight="bold" fill="#1e7228">b</text>
<text x="787.7" y="107.8" font-size="9.6" font-weight="bold" letter-spacing="0.9" fill="#1e7228" stroke="#1e7228" stroke-width="0.35">20</text>
<rect x="858.0" y="37.2" width="10.4" height="16.8" fill="#fff"/>
<rect x="868.0" y="41.3" width="6.7" height="12.0" fill="#fff"/>
<text transform="translate(858.7,50.8) scale(0.88,1)" font-size="15.3" font-weight="bold" fill="#e9824f">y</text>
<text x="868.3" y="50.8" font-size="9.6" font-weight="bold" letter-spacing="0.9" fill="#e9824f" stroke="#e9824f" stroke-width="0.35">4</text>
<rect x="891.0" y="37.2" width="10.4" height="16.8" fill="#fff"/>
<rect x="901.0" y="41.3" width="6.7" height="12.0" fill="#fff"/>
<text transform="translate(891.7,50.8) scale(0.88,1)" font-size="15.3" font-weight="bold" fill="#e9824f">y</text>
<text x="901.3" y="50.8" font-size="9.6" font-weight="bold" letter-spacing="0.9" fill="#e9824f" stroke="#e9824f" stroke-width="0.35">3</text>
<rect x="875.7" y="95.5" width="9.6" height="15.5" fill="#fff"/>
<rect x="886.0" y="98.6" width="12.9" height="12.0" fill="#fff"/>
<text x="876.3" y="107.8" font-size="13.5" font-weight="bold" fill="#1e7228">b</text>
<text x="886.7" y="107.8" font-size="9.6" font-weight="bold" letter-spacing="0.9" fill="#1e7228" stroke="#1e7228" stroke-width="0.35">23</text>
<rect x="924.0" y="37.2" width="10.4" height="16.8" fill="#fff"/>
<rect x="934.0" y="41.3" width="6.7" height="12.0" fill="#fff"/>
<text transform="translate(924.7,50.8) scale(0.88,1)" font-size="15.3" font-weight="bold" fill="#e9824f">y</text>
<text x="934.3" y="50.8" font-size="9.6" font-weight="bold" letter-spacing="0.9" fill="#e9824f" stroke="#e9824f" stroke-width="0.35">2</text>
<rect x="941.7" y="95.5" width="9.6" height="15.5" fill="#fff"/>
<rect x="952.0" y="98.6" width="12.9" height="12.0" fill="#fff"/>
<text x="942.3" y="107.8" font-size="13.5" font-weight="bold" fill="#1e7228">b</text>
<text x="952.7" y="107.8" font-size="9.6" font-weight="bold" letter-spacing="0.9" fill="#1e7228" stroke="#1e7228" stroke-width="0.35">25</text>
</svg></body></html>
